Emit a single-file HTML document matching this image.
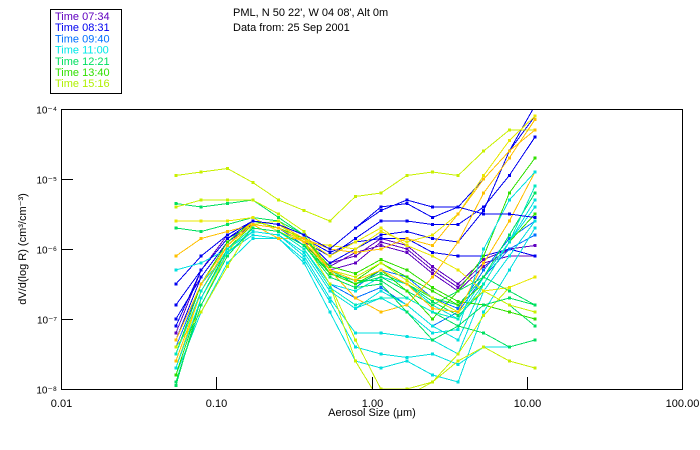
<!DOCTYPE html>
<html><head><meta charset="utf-8"><style>
html,body{margin:0;padding:0;background:#fff;}
svg{display:block;font-family:"Liberation Sans","DejaVu Sans",sans-serif;}
</style></head><body>
<svg id="chart" width="700" height="450" viewBox="0 0 700 450" xmlns="http://www.w3.org/2000/svg">
<rect width="700" height="450" fill="#fff"/>
<g>
<rect x="50.5" y="9.5" width="71" height="84" fill="none" stroke="#000" stroke-width="1"/>
<g id="legend-items" font-size="11"></g>
</g>
<text x="233" y="16" font-size="11" fill="#000">PML, N 50 22', W 04 08', Alt 0m</text>
<text x="233" y="31" font-size="11" fill="#000">Data from: 25 Sep 2001</text>
<defs><clipPath id="plotclip"><rect x="61" y="109" width="621" height="280"/></clipPath></defs>
<g id="series" clip-path="url(#plotclip)" shape-rendering="crispEdges"></g>
<g id="axes" shape-rendering="crispEdges"></g>
<text transform="translate(26,249) rotate(-90)" text-anchor="middle" font-size="11">dV/d(log R) (cm³/cm⁻³)</text>
<text x="372" y="416" text-anchor="middle" font-size="11">Aerosol Size (μm)</text>
</svg>
<script>
const sizes=[0.055,0.080,0.118,0.172,0.252,0.368,0.539,0.788,1.15,1.69,2.47,3.61,5.28,7.72,11.3];
const xTicks=[0.01,0.1,1,10,100];
const xTickLabels=["0.01","0.10","1.00","10.00","100.00"];
const yTicks=[-4,-5,-6,-7,-8];
const yTickLabels=["10⁻⁴","10⁻⁵","10⁻⁶","10⁻⁷","10⁻⁸"];
const legendLabels=["Time 07:34","Time 08:31","Time 09:40","Time 11:00","Time 12:21","Time 13:40","Time 15:16"];
const legendColors=["#6000c0","#0000f0","#0070ff","#00e8e8","#00e060","#30e000","#b0f000"];
const seriesColors=["#6000c0","#6000c0","#6000c0","#0000f0","#0000f0","#0000f0","#0000f0","#0070ff","#0070ff","#00e0e0","#00e0e0","#00e0e0","#00e0e0","#00e0e0","#00e060","#00e060","#00e060","#00e060","#30e000","#30e000","#30e000","#c8f000","#c8f000","#c8f000","#c8f000","#e8e800","#e8e800","#ffc000","#ffc000","#ffc000","#00e0e0","#00e8c0","#00e060","#0000f0"];
const s1=[-7.2,-6.3,-5.8,-5.6,-5.65,-5.85,-6.2,-6.1,-5.85,-5.95,-6.25,-6.5,-6.15,-6.0,-6.1];
const s2=[-7.5,-6.5,-5.9,-5.6,-5.7,-5.9,-6.3,-6.2,-5.9,-6.0,-6.3,-6.55,-6.2,-6.1,-6.1];
const s3=[-7.7,-6.6,-6.0,-5.65,-5.7,-5.95,-6.25,-6.05,-5.95,-6.05,-6.35,-6.6,-6.25,-6.0,-5.95];
const s4=[-6.5,-6.1,-5.8,-5.6,-5.65,-5.8,-6.0,-5.7,-5.45,-5.3,-5.4,-5.4,-5.0,-4.6,-4.1];
const s5=[-6.8,-6.3,-5.85,-5.65,-5.7,-5.9,-6.1,-5.85,-5.6,-5.6,-5.65,-5.65,-5.4,-4.95,-4.4];
const s6=[-7.0,-6.4,-5.9,-5.6,-5.65,-5.85,-6.2,-6.0,-5.8,-5.75,-5.85,-5.9,-5.45,-4.6,-3.95];
const s7=[-7.3,-6.4,-5.9,-5.65,-5.7,-5.85,-6.05,-5.9,-5.85,-5.85,-6.05,-6.1,-6.1,-6.0,-6.1];
const s8=[-7.4,-6.5,-5.95,-5.65,-5.7,-5.95,-6.4,-6.55,-6.3,-6.4,-6.7,-6.85,-6.3,-5.85,-5.6];
const s9=[-7.6,-6.6,-6.0,-5.7,-5.75,-6.0,-6.5,-6.7,-6.55,-6.8,-7.1,-6.9,-6.4,-6.0,-5.8];
const s10=[-6.3,-6.2,-6.0,-5.75,-5.8,-6.05,-6.6,-6.85,-6.6,-6.8,-7.1,-7.3,-6.5,-5.9,-5.3];
const s11=[-7.9,-6.8,-6.1,-5.7,-5.75,-6.0,-6.5,-6.6,-6.4,-6.5,-6.8,-7.0,-6.4,-5.9,-5.4];
const s12=[-7.6,-6.6,-6.0,-5.75,-5.8,-6.1,-6.7,-7.2,-7.2,-7.25,-7.3,-7.5,-6.6,-6.1,-5.6];
const s13=[-7.8,-6.9,-6.2,-5.85,-5.85,-6.2,-6.9,-7.6,-7.7,-7.6,-7.8,-7.9,-6.9,-6.3,-5.7];
const s14=[-7.5,-6.5,-6.05,-5.8,-5.85,-6.15,-6.75,-7.4,-7.5,-7.55,-7.5,-7.65,-7.4,-7.4,-7.3];
const s15=[-7.95,-6.7,-6.0,-5.7,-5.75,-5.95,-6.35,-6.5,-6.3,-6.5,-6.75,-6.95,-6.6,-6.8,-7.1];
const s16=[-5.7,-5.75,-5.65,-5.55,-5.6,-5.8,-6.3,-6.5,-6.4,-6.6,-6.8,-6.6,-6.4,-6.6,-6.8];
const s17=[-5.35,-5.4,-5.35,-5.3,-5.55,-5.8,-6.35,-6.45,-6.45,-6.7,-6.9,-7.1,-7.2,-7.4,-7.3];
const s18=[-7.7,-6.6,-6.0,-5.65,-5.7,-5.9,-6.3,-6.5,-6.35,-6.5,-6.7,-6.8,-6.4,-5.8,-5.2];
const s19=[-7.6,-6.6,-5.95,-5.6,-5.65,-5.85,-6.3,-6.45,-6.2,-6.4,-6.6,-6.8,-6.5,-5.9,-5.5];
const s20=[-7.5,-6.5,-5.9,-5.6,-5.7,-5.85,-6.25,-6.35,-6.15,-6.3,-6.55,-6.75,-6.8,-6.9,-7.0];
const s21=[-7.8,-6.7,-6.0,-5.65,-5.7,-5.9,-6.35,-6.5,-6.3,-6.6,-7.0,-6.6,-6.1,-5.2,-4.7];
const s22=[-4.95,-4.9,-4.85,-5.05,-5.3,-5.45,-5.6,-5.25,-5.2,-4.95,-4.9,-4.95,-4.6,-4.3,-4.3];
const s23=[-5.4,-5.3,-5.3,-5.3,-5.5,-5.75,-6.3,-6.4,-6.2,-6.45,-6.7,-6.9,-6.6,-6.8,-6.9];
const s24=[-7.4,-6.9,-6.25,-5.65,-5.6,-5.9,-6.5,-7.3,-8.0,-8.0,-7.9,-7.5,-6.95,-6.55,-6.4];
const s25=[-7.9,-6.8,-6.05,-5.6,-5.65,-5.9,-6.5,-7.6,-8.2,-8.1,-7.9,-7.6,-7.4,-7.6,-7.7];
const s26=[-5.6,-5.6,-5.6,-5.55,-5.75,-5.9,-5.95,-6.0,-5.75,-5.9,-5.8,-5.5,-4.95,-4.45,-4.1];
const s27=[-7.7,-6.6,-5.95,-5.6,-5.65,-5.85,-6.1,-5.9,-5.7,-5.95,-6.1,-6.3,-6.6,-6.55,-6.4];
const s28=[-6.1,-5.85,-5.75,-5.65,-5.85,-5.85,-6.0,-6.05,-6.0,-5.85,-5.95,-5.5,-5.0,-4.6,-4.3];
const s29=[-7.6,-6.6,-5.95,-5.6,-5.65,-5.85,-6.3,-6.7,-6.9,-6.8,-6.4,-5.9,-5.2,-4.7,-4.15];
const s30=[-7.3,-6.5,-5.95,-5.65,-5.7,-5.9,-6.3,-6.45,-6.3,-6.5,-6.85,-6.9,-6.2,-5.6,-4.9];
const s31=[-7.7,-6.7,-6.05,-5.75,-5.8,-6.05,-6.6,-6.85,-6.7,-6.9,-7.2,-7.15,-6.0,-5.3,-4.9];
const s32=[-7.5,-6.6,-6.0,-5.7,-5.75,-6.0,-6.55,-6.8,-6.7,-6.7,-6.9,-7.0,-6.5,-5.9,-5.1];
const s33=[-7.9,-6.8,-6.1,-5.7,-5.75,-5.95,-6.4,-6.55,-6.5,-6.9,-7.3,-7.1,-6.8,-6.7,-6.8];
const s34=[-7.1,-6.3,-5.85,-5.6,-5.65,-5.8,-6.0,-5.7,-5.4,-5.35,-5.55,-5.4,-5.5,-5.5,-5.55];
const seriesLogValues=[s1,s2,s3,s4,s5,s6,s7,s8,s9,s10,s11,s12,s13,s14,s15,s16,s17,s18,s19,s20,s21,s22,s23,s24,s25,s26,s27,s28,s29,s30,s31,s32,s33,s34];

const NS="http://www.w3.org/2000/svg";
const X0=61,X1=682,Y0=109,Y1=389;
function xScale(v){return X0+(Math.log10(v)+2)/4*(X1-X0);}
function yScale(lg){return Y0+(-4-lg)/4*(Y1-Y0);}
function mk(tag,attrs,parent){const e=document.createElementNS(NS,tag);for(const k in attrs)e.setAttribute(k,attrs[k]);parent.appendChild(e);return e;}

const leg=document.getElementById('legend-items');
legendLabels.forEach((lab,i)=>{
  const t=mk('text',{x:55,y:20+i*11.2,fill:legendColors[i]},leg);
  
  
  t.textContent=lab;
});

const sg=document.getElementById('series');
seriesLogValues.forEach((vals,si)=>{
  const col=seriesColors[si];
  const g=mk('g',{},sg);
  
  
  const pts=vals.map((v,i)=>xScale(sizes[i]).toFixed(1)+','+yScale(v).toFixed(1)).join(' ');
  mk('polyline',{points:pts,fill:'none',stroke:col,'stroke-width':1},g);
  vals.forEach((v,i)=>{
    const r=mk('rect',{x:xScale(sizes[i])-1.5,y:yScale(v)-1.5,width:3,height:3,fill:col},g);
    
    
  });
});

const ax=document.getElementById('axes');
const frame=mk('rect',{x:X0+0.5,y:Y0+0.5,width:X1-X0,height:Y1-Y0,fill:'none',stroke:'#000','stroke-width':1},ax);


xTicks.forEach((v,i)=>{
  const x=Math.round(xScale(v))+0.5;
  const l=mk('line',{x1:x,x2:x,y1:Y1,y2:Y1-12,stroke:'#000'},ax);
  
  
  const t=mk('text',{x:x,y:Y1+18,'text-anchor':'middle','font-size':11},ax);
  
  
  t.textContent=xTickLabels[i];
});
yTicks.forEach((v,i)=>{
  const y=Math.round(yScale(v))+0.5;
  const l=mk('line',{x1:X0,x2:X0+12,y1:y,y2:y,stroke:'#000'},ax);
  
  
  const t=mk('text',{x:X0-4,y:y+4,'text-anchor':'end','font-size':10},ax);
  
  
  t.textContent=yTickLabels[i];
});
</script>
</body></html>
